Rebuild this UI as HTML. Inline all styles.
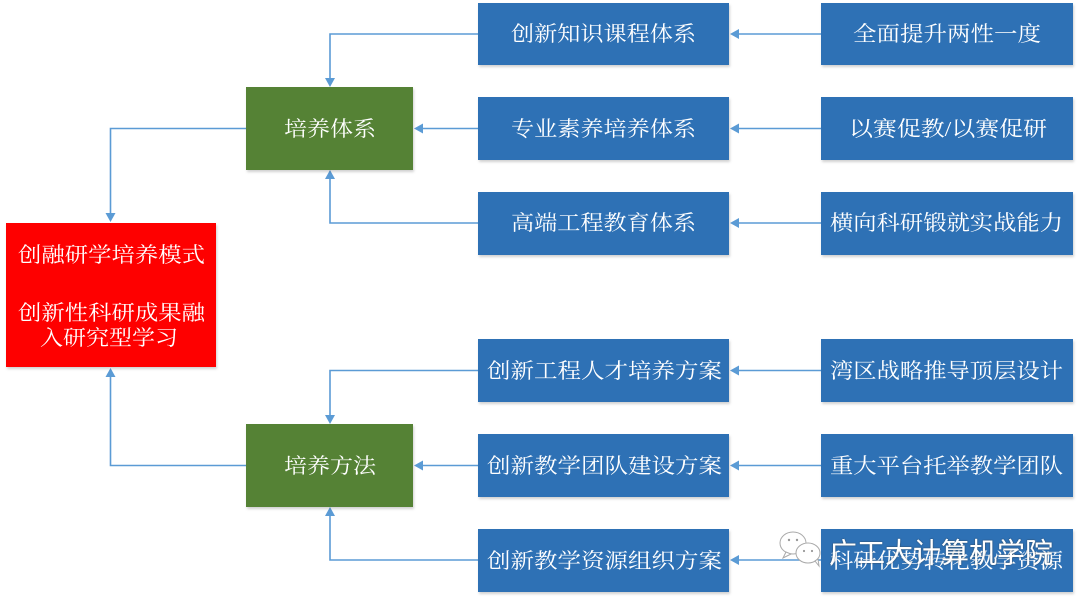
<!DOCTYPE html>
<html>
<head>
<meta charset="utf-8">
<style>
html,body{margin:0;padding:0;background:#fff;}
body{width:1080px;height:600px;overflow:hidden;}
svg{display:block;}
.t{font-family:"Liberation Serif","Noto Serif CJK SC",serif;fill:#fff;font-size:21px;}
</style>
</head>
<body>
<svg width="1080" height="600" viewBox="0 0 1080 600" xmlns="http://www.w3.org/2000/svg">
<defs>
<filter id="sh" x="-5%" y="-5%" width="115%" height="120%">
<feDropShadow dx="1" dy="2" stdDeviation="1.2" flood-color="#000" flood-opacity="0.18"/>
</filter>
<filter id="ts" x="-5%" y="-20%" width="110%" height="140%">
<feDropShadow dx="0" dy="0" stdDeviation="0.8" flood-color="#333" flood-opacity="0.9"/>
</filter>
</defs>

<!-- connectors -->
<g stroke="#5b9bd5" stroke-width="1.6" fill="none">
  <!-- top group -->
  <polyline points="478,34 330,34 330,80"/>
  <line x1="478" y1="128.5" x2="421" y2="128.5"/>
  <polyline points="478,223 330,223 330,177"/>
  <!-- bottom group -->
  <polyline points="478,370.5 330,370.5 330,417"/>
  <line x1="478" y1="465.5" x2="421" y2="465.5"/>
  <polyline points="478,560 330,560 330,514"/>
  <!-- to red box -->
  <polyline points="246,128.5 110.5,128.5 110.5,215"/>
  <polyline points="246,465.5 110.5,465.5 110.5,375"/>
  <!-- right to left -->
  <line x1="821" y1="34" x2="737" y2="34"/>
  <line x1="821" y1="128.5" x2="737" y2="128.5"/>
  <line x1="821" y1="223" x2="737" y2="223"/>
  <line x1="821" y1="370.5" x2="737" y2="370.5"/>
  <line x1="821" y1="465.5" x2="737" y2="465.5"/>
  <line x1="821" y1="560" x2="737" y2="560"/>
</g>
<g fill="#5b9bd5">
  <!-- down arrows -->
  <polygon points="325,78 335,78 330,87"/>
  <polygon points="325,415 335,415 330,424"/>
  <polygon points="105.5,213 115.5,213 110.5,222"/>
  <!-- up arrows -->
  <polygon points="325,179 335,179 330,170"/>
  <polygon points="325,516 335,516 330,507"/>
  <polygon points="105.5,377 115.5,377 110.5,368"/>
  <!-- left arrows to green -->
  <polygon points="423,123.5 423,133.5 414,128.5"/>
  <polygon points="423,460.5 423,470.5 414,465.5"/>
  <!-- left arrows to blue -->
  <polygon points="739,29 739,39 730,34"/>
  <polygon points="739,123.5 739,133.5 730,128.5"/>
  <polygon points="739,218 739,228 730,223"/>
  <polygon points="739,365.5 739,375.5 730,370.5"/>
  <polygon points="739,460.5 739,470.5 730,465.5"/>
  <polygon points="739,555 739,565 730,560"/>
</g>

<!-- boxes -->
<g filter="url(#sh)">
  <rect x="6" y="223" width="210" height="144" fill="#fe0000"/>
  <rect x="246" y="87" width="167" height="83" fill="#548235"/>
  <rect x="246" y="424" width="167" height="83" fill="#548235"/>
  <g fill="#2e71b5">
    <rect x="478" y="3" width="251" height="62"/>
    <rect x="478" y="97" width="251" height="63"/>
    <rect x="478" y="192" width="251" height="63"/>
    <rect x="478" y="339" width="251" height="63"/>
    <rect x="478" y="434" width="251" height="63"/>
    <rect x="478" y="529" width="251" height="63"/>
    <rect x="821" y="3" width="252" height="62"/>
    <rect x="821" y="97" width="252" height="63"/>
    <rect x="821" y="192" width="252" height="63"/>
    <rect x="821" y="339" width="252" height="63"/>
    <rect x="821" y="434" width="252" height="63"/>
    <rect x="821" y="529" width="252" height="63"/>
  </g>
</g>

<!-- text -->
<g class="t" dominant-baseline="central">
  <text x="18" y="255" textLength="187" lengthAdjust="spacingAndGlyphs">创融研学培养模式</text>
  <text x="18" y="313" textLength="187" lengthAdjust="spacingAndGlyphs">创新性科研成果融</text>
  <text x="40" y="338" textLength="138" lengthAdjust="spacingAndGlyphs">入研究型学习</text>

  <text x="284" y="129" textLength="92" lengthAdjust="spacingAndGlyphs">培养体系</text>
  <text x="284" y="466" textLength="92" lengthAdjust="spacingAndGlyphs">培养方法</text>

  <text x="511" y="34" textLength="185" lengthAdjust="spacingAndGlyphs">创新知识课程体系</text>
  <text x="511" y="129" textLength="185" lengthAdjust="spacingAndGlyphs">专业素养培养体系</text>
  <text x="511" y="223" textLength="185" lengthAdjust="spacingAndGlyphs">高端工程教育体系</text>
  <text x="487" y="371" textLength="235" lengthAdjust="spacingAndGlyphs">创新工程人才培养方案</text>
  <text x="487" y="466" textLength="235" lengthAdjust="spacingAndGlyphs">创新教学团队建设方案</text>
  <text x="487" y="561" textLength="235" lengthAdjust="spacingAndGlyphs">创新教学资源组织方案</text>

  <text x="853" y="34" textLength="188" lengthAdjust="spacingAndGlyphs">全面提升两性一度</text>
  <text x="849" y="129" textLength="198" lengthAdjust="spacingAndGlyphs">以赛促教/以赛促研</text>
  <text x="830" y="223" textLength="233" lengthAdjust="spacingAndGlyphs">横向科研锻就实战能力</text>
  <text x="830" y="371" textLength="233" lengthAdjust="spacingAndGlyphs">湾区战略推导顶层设计</text>
  <text x="830" y="466" textLength="233" lengthAdjust="spacingAndGlyphs">重大平台托举教学团队</text>
  <text x="830" y="561" textLength="233" lengthAdjust="spacingAndGlyphs">科研优势转化教学资源</text>
</g>

<!-- watermark -->
<g>
  <g stroke="#aaa" stroke-width="1" fill="#fff">
    <ellipse cx="793" cy="543" rx="13" ry="11"/>
    <path d="M786,552 l-3,6 l8,-4 z"/>
    <ellipse cx="808" cy="553" rx="12" ry="10"/>
    <path d="M815,561 l4,5 l-1,-7 z"/>
  </g>
  <g fill="#999">
    <circle cx="789" cy="540" r="1.2"/><circle cx="797" cy="540" r="1.2"/>
    <circle cx="804" cy="551" r="1.1"/><circle cx="812" cy="551" r="1.1"/>
  </g>
  <text x="829" y="553" dominant-baseline="central" textLength="224" lengthAdjust="spacingAndGlyphs" filter="url(#ts)" style="font-family:'Liberation Sans','Noto Sans CJK SC',sans-serif;font-size:28px;fill:#fff;">广工大计算机学院</text>
</g>
</svg>
</body>
</html>
